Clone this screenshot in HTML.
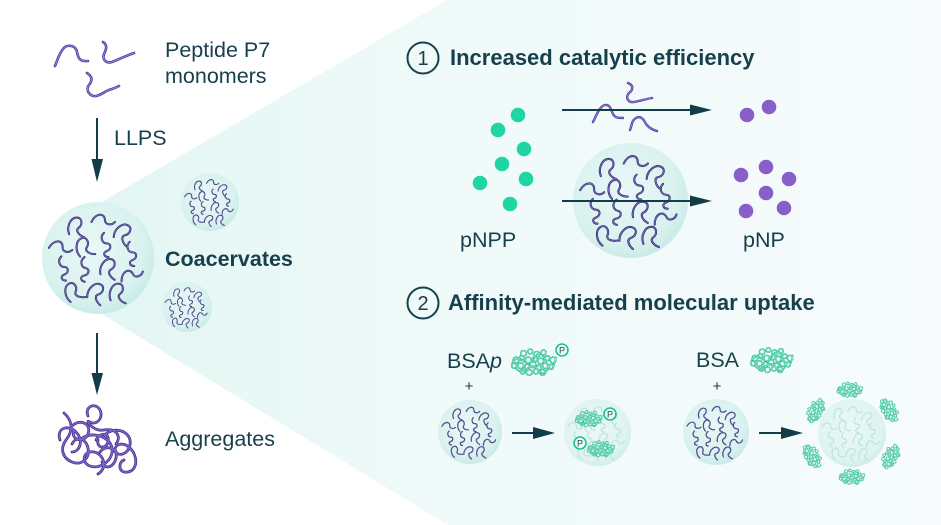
<!DOCTYPE html>
<html><head><meta charset="utf-8"><style>
html,body{margin:0;padding:0;background:#fff;width:941px;height:525px;overflow:hidden}
svg{display:block}
text{font-family:"Liberation Sans",Arial,sans-serif;fill:#17404d}
</style></head><body>
<svg width="941" height="525" viewBox="0 0 941 525" xmlns="http://www.w3.org/2000/svg">
<defs>
<linearGradient id="bg" gradientUnits="userSpaceOnUse" x1="100" y1="0" x2="941" y2="0">
<stop offset="0" stop-color="#e3f6f3"/><stop offset="0.4" stop-color="#effaf9"/><stop offset="1" stop-color="#f7fbfc"/>
</linearGradient>
<radialGradient id="cg" cx="0.45" cy="0.42" r="0.6">
<stop offset="0" stop-color="#e8f8f6"/><stop offset="0.75" stop-color="#d9f2ef"/><stop offset="1" stop-color="#c8eae6"/>
</radialGradient>
<radialGradient id="cgf" cx="0.45" cy="0.42" r="0.6">
<stop offset="0" stop-color="#eaf8f7"/><stop offset="0.8" stop-color="#def4f1"/><stop offset="1" stop-color="#cfece9"/>
</radialGradient>
<path id="qa" d="M-5,5 C-7,0 -4,-6 0,-6 C4,-6 4,-1 1,1 C-1,3 2,6 5,7"/>
<path id="qb" d="M-7,-2 C-3,-7 3,-6 2,-1 C1,2 5,4 8,2"/>
<path id="qc" d="M-2,-7 C-5,-4 -3,0 0,0 C3,0 3,4 0,5 C-3,6 -2,9 1,9"/>
<g id="sq">
<use href="#qa" transform="translate(31,22) scale(1.35)"/>
<use href="#qb" transform="translate(54,18) rotate(-15) scale(1.35)"/>
<use href="#qa" transform="translate(73,28) rotate(25) scale(1.35)"/>
<use href="#qb" transform="translate(16,42) rotate(-10) scale(1.35)"/>
<use href="#qa" transform="translate(38,40) rotate(-20) scale(1.35)"/>
<use href="#qc" transform="translate(58,37) scale(1.35)"/>
<use href="#qc" transform="translate(81,45) scale(1.35)"/>
<use href="#qc" transform="translate(20,58) scale(1.35)"/>
<use href="#qc" transform="translate(39,59) rotate(10) scale(1.35)"/>
<use href="#qa" transform="translate(60,59) rotate(10) scale(1.35)"/>
<use href="#qb" transform="translate(80,67) rotate(-40) scale(1.35)"/>
<use href="#qa" transform="translate(28,80) rotate(-30) scale(1.35)"/>
<use href="#qa" transform="translate(49,81) rotate(20) scale(1.35)"/>
<use href="#qa" transform="translate(68,81) scale(1.35)"/>
</g>
<symbol id="coac" viewBox="0 0 100 100">
<circle cx="50" cy="50" r="50" fill="url(#cg)"/>
<use href="#sq" stroke="#2d2b63" stroke-width="1.35" fill="none" stroke-linecap="round"/>
<use href="#sq" stroke="#8a6fd6" stroke-width="0.5" fill="none" stroke-linecap="round"/>
</symbol>
<symbol id="coacf" viewBox="0 0 100 100">
<circle cx="50" cy="50" r="50" fill="url(#cgf)"/>
<use href="#sq" stroke="#bfe2de" stroke-width="1.3" fill="none" stroke-linecap="round"/>
</symbol>
<g id="protp">
<circle cx="14" cy="8" r="3"/><circle cx="21" cy="6" r="2.5"/><circle cx="28" cy="9" r="3"/><circle cx="35" cy="7" r="2.5"/>
<circle cx="6" cy="15" r="3"/><circle cx="12" cy="13" r="2.5"/><circle cx="19" cy="15" r="3"/><circle cx="26" cy="14" r="2.5"/><circle cx="32" cy="16" r="3"/><circle cx="39" cy="13" r="2.5"/><circle cx="45" cy="15" r="3"/>
<circle cx="4" cy="21" r="2.5"/><circle cx="11" cy="21" r="3"/><circle cx="18" cy="22" r="2.5"/><circle cx="24" cy="20" r="3"/><circle cx="30" cy="23" r="2.5"/><circle cx="37" cy="21" r="3"/><circle cx="43" cy="22" r="2.5"/>
<circle cx="13" cy="27" r="2.5"/><circle cx="20" cy="28" r="3"/><circle cx="27" cy="27" r="2.5"/><circle cx="34" cy="28" r="3"/>
<path d="M2,18 Q8,10 14,16 T26,12 T38,18 T48,12 M6,24 Q12,30 18,24 T30,26 T42,20"/>
</g>
<g id="prot" transform="translate(-25,-16)" fill="none" stroke-linecap="round">
<use href="#protp" stroke="#14b886" stroke-width="1.7"/>
<use href="#protp" stroke="#c4f4e2" stroke-width="0.5"/>
</g>
<g id="pc"><circle r="6" fill="#eafbf5" stroke="#18c492" stroke-width="1.6"/><text x="0" y="3.3" font-size="9" text-anchor="middle" style="fill:#2a4a52">P</text></g>
<g id="agg">
<path d="M64,413 C72,420 74,430 66,440 C60,448 62,458 72,462 C82,466 90,458 88,448 C86,438 76,436 72,444"/>
<path d="M88,416 C84,406 96,402 100,410 C104,418 96,426 90,422 C84,418 92,432 104,430 C116,428 122,436 116,444"/>
<path d="M80,440 C90,430 110,436 112,448 C114,460 100,470 90,466 C80,462 84,450 94,452 C104,454 108,468 98,474"/>
<path d="M104,436 C112,426 128,430 130,440 C132,452 120,458 116,452 C112,446 122,440 130,448 C138,456 138,470 128,472 C118,474 118,462 124,460"/>
<path d="M60,440 C56,428 68,424 76,432 C84,440 80,452 72,452"/>
<path d="M100,452 C106,444 118,448 116,458 C114,468 104,470 102,462"/>
<path d="M72,426 C80,418 92,424 88,434 C84,444 70,440 74,430"/>
<path d="M96,440 C100,432 110,432 108,442 C106,450 96,448 98,440"/>
</g>
</defs>

<!-- background wedge -->
<polygon points="60,258 100,203 447,0 941,0 941,525 448,525 100,313" fill="url(#bg)"/>

<!-- monomers -->
<g fill="none" stroke-linecap="round">
<g stroke="#4a3898" stroke-width="2.6">
<path d="M55,66 C58,58 62,47 67,46 C72,45 76,47 77,52 C78,57 79,62 88,61"/>
<path d="M103,42 C108,45 106,50 104,54 C102,59 106,64 112,62 C118,60 125,56 134,53"/>
<path d="M87,73 C92,76 93,80 89,85 C85,90 90,97 96,96 C102,95 106,90 112,89 C115,88 117,87 119,86"/>
</g>
<g stroke="#9a82e0" stroke-width="1">
<path d="M55,66 C58,58 62,47 67,46 C72,45 76,47 77,52 C78,57 79,62 88,61"/>
<path d="M103,42 C108,45 106,50 104,54 C102,59 106,64 112,62 C118,60 125,56 134,53"/>
<path d="M87,73 C92,76 93,80 89,85 C85,90 90,97 96,96 C102,95 106,90 112,89 C115,88 117,87 119,86"/>
</g>
</g>
<text x="165" y="57" font-size="21.5">Peptide P7</text>
<text x="165" y="83" font-size="21.5">monomers</text>

<!-- arrow 1 -->
<line x1="97" y1="118" x2="97" y2="162" stroke="#123c48" stroke-width="2"/>
<polygon points="91.5,159 103,159 97,182" fill="#123c48"/>
<text x="114" y="145" font-size="21.5">LLPS</text>

<!-- coacervates -->
<use href="#coac" x="42" y="202" width="112" height="112"/>
<use href="#coac" x="181" y="173" width="58" height="58"/>
<use href="#coac" x="162" y="282" width="50" height="50"/>
<text x="165" y="266" font-size="21.5" font-weight="bold">Coacervates</text>

<!-- arrow 2 -->
<line x1="97" y1="333" x2="97" y2="376" stroke="#123c48" stroke-width="2"/>
<polygon points="91.5,373 103,373 97,395" fill="#123c48"/>

<!-- aggregates -->
<g fill="none" stroke-linecap="round">
<use href="#agg" stroke="#3f3185" stroke-width="2.8"/>
<use href="#agg" stroke="#8164d2" stroke-width="1.3"/>
</g>
<text x="165" y="446" font-size="21.5">Aggregates</text>

<!-- Section 1 -->
<circle cx="423" cy="58" r="15.5" fill="none" stroke="#17404d" stroke-width="2"/>
<text x="423" y="65" font-size="20" text-anchor="middle">1</text>
<text x="450" y="65" font-size="22" font-weight="bold">Increased catalytic efficiency</text>

<g fill="#1fd5a3">
<circle cx="518" cy="115" r="7.3"/><circle cx="498" cy="130" r="7.3"/><circle cx="524" cy="149" r="7.3"/>
<circle cx="502" cy="164" r="7.3"/><circle cx="480" cy="183" r="7.3"/><circle cx="526" cy="179" r="7.3"/>
<circle cx="510" cy="204" r="7.3"/>
</g>
<g fill="#8a5ec8">
<circle cx="747" cy="115" r="7.3"/><circle cx="769" cy="107" r="7.3"/><circle cx="766" cy="167" r="7.3"/>
<circle cx="741" cy="175" r="7.3"/><circle cx="789" cy="179" r="7.3"/><circle cx="766" cy="193" r="7.3"/>
<circle cx="746" cy="211" r="7.3"/><circle cx="784" cy="208" r="7.3"/>
</g>
<text x="460" y="247" font-size="21.5">pNPP</text>
<text x="743" y="247" font-size="21.5">pNP</text>

<use href="#coac" x="573" y="143" width="115" height="115"/>

<g fill="none" stroke-linecap="round">
<g stroke="#4a3898" stroke-width="2.4">
<path d="M593,122 C597,114 600,106 605,105 C610,104 611,110 613,114 C615,118 619,118 623,118"/>
<path d="M628,83 C633,85 634,89 629,93 C625,97 628,103 634,102 C640,101 646,99 652,98"/>
<path d="M630,130 C632,126 631,121 636,118 C641,115 644,120 646,124 C649,128 653,130 657,131"/>
</g>
<g stroke="#9a82e0" stroke-width="0.9">
<path d="M593,122 C597,114 600,106 605,105 C610,104 611,110 613,114 C615,118 619,118 623,118"/>
<path d="M628,83 C633,85 634,89 629,93 C625,97 628,103 634,102 C640,101 646,99 652,98"/>
<path d="M630,130 C632,126 631,121 636,118 C641,115 644,120 646,124 C649,128 653,130 657,131"/>
</g>
</g>

<line x1="562" y1="110" x2="692" y2="110" stroke="#123c48" stroke-width="2"/>
<polygon points="690,104.5 712,110 690,115.5" fill="#123c48"/>
<line x1="562" y1="201" x2="692" y2="201" stroke="#123c48" stroke-width="2"/>
<polygon points="690,195.5 712,201 690,206.5" fill="#123c48"/>

<!-- Section 2 -->
<circle cx="423" cy="303" r="15.5" fill="none" stroke="#17404d" stroke-width="2"/>
<text x="423" y="310" font-size="20" text-anchor="middle">2</text>
<text x="448" y="310" font-size="22" font-weight="bold">Affinity-mediated molecular uptake</text>

<text x="447" y="368" font-size="21.5">BSA<tspan font-style="italic">p</tspan></text>
<use href="#prot" transform="translate(534,361) scale(0.95)"/>
<use href="#pc" transform="translate(562,350)"/>
<text x="469" y="391" font-size="15" text-anchor="middle">+</text>

<use href="#coac" x="438" y="400" width="64" height="64"/>
<line x1="512" y1="433" x2="536" y2="433" stroke="#123c48" stroke-width="2"/>
<polygon points="533,427 555,433 533,439" fill="#123c48"/>

<use href="#coacf" x="564" y="399" width="67" height="67"/>
<use href="#prot" transform="translate(589,418) scale(0.58)"/>
<use href="#pc" transform="translate(610,414)"/>
<use href="#prot" transform="translate(601,448) scale(0.58)"/>
<use href="#pc" transform="translate(580,443)"/>

<text x="696" y="367" font-size="21.5">BSA</text>
<use href="#prot" transform="translate(772,359) scale(0.9)"/>
<text x="717" y="391" font-size="15" text-anchor="middle">+</text>

<use href="#coac" x="683" y="399" width="66" height="66"/>
<line x1="759" y1="433" x2="784" y2="433" stroke="#123c48" stroke-width="2"/>
<polygon points="781,427 803,433 781,439" fill="#123c48"/>

<use href="#coacf" x="818" y="399" width="68" height="68"/>
<use href="#prot" transform="translate(850,389) scale(0.55)"/>
<use href="#prot" transform="translate(815,410) rotate(-60) scale(0.55)"/>
<use href="#prot" transform="translate(890,410) rotate(60) scale(0.55)"/>
<use href="#prot" transform="translate(813,456) rotate(60) scale(0.55)"/>
<use href="#prot" transform="translate(890,456) rotate(-60) scale(0.55)"/>
<use href="#prot" transform="translate(852,476) scale(0.55)"/>
</svg>
</body></html>
